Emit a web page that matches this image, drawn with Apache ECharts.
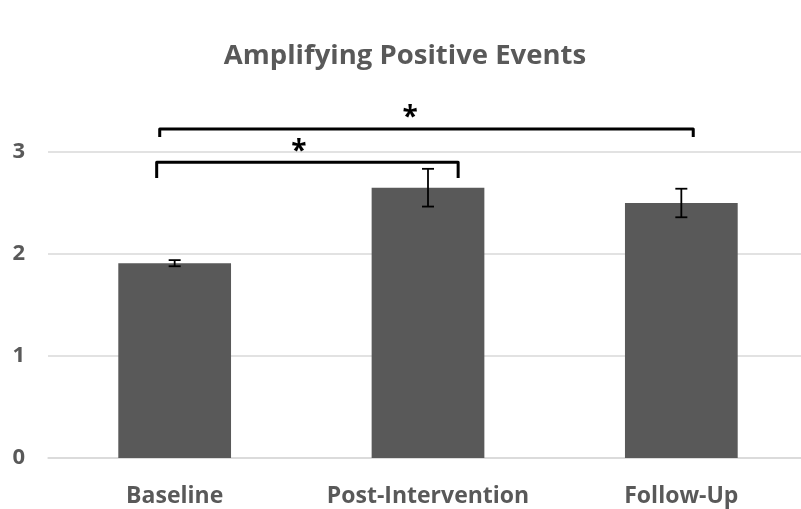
<!DOCTYPE html>
<html><head><meta charset="utf-8">
<script src="https://cdn.jsdelivr.net/npm/echarts@6/dist/echarts.min.js"></script>
<style>html,body{margin:0;padding:0;background:#fff;overflow:hidden}#c{width:810px;height:509px}</style>
</head><body><div id="c"></div>
<script>
const categories = ['Baseline', 'Post-Intervention', 'Follow-Up'];
const means = [1.91, 2.65, 2.50];
const errors = [0.03, 0.185, 0.14];
const yTicks = [0, 1, 2, 3];
const sigPairs = [[0, 1], [0, 2]];
const sigLabels = ['*', '*'];

// layout of the significance brackets (offsets in category-band units, levels in y units)
const bracketLayout = [
  { dx0: -0.071, dx1: 0.119, level: 2.90, endLevel: 2.745, starDx: 0.49, starLevel: 3.0 },
  { dx0: -0.059, dx1: 0.047, level: 3.225, endLevel: 3.147, starDx: 0.929, starLevel: 3.335 }
];

const FONT = 'Open Sans';
const chart = echarts.init(document.getElementById('c'), null, { renderer: 'canvas' });

const errData = means.map((m, i) => [i, m - errors[i], m + errors[i]]);
const brData = sigPairs.map((p, i) => [p[0], p[1], i]);

chart.setOption({
  animation: false,
  title: {
    text: 'Amplifying Positive Events',
    left: 'center', top: 37,
    textStyle: { fontFamily: FONT, fontWeight: 'bold', fontSize: 27.5, color: '#595959' }
  },
  grid: { left: 48, top: 152, right: 2, bottom: 51, containLabel: false },
  xAxis: {
    type: 'category', data: categories,
    axisLine: { lineStyle: { color: '#d9d9d9', width: 1.5 } },
    axisTick: { show: false },
    axisLabel: { interval: 0, fontFamily: FONT, fontWeight: 'bold', fontSize: 23, color: '#595959', margin: 27 }
  },
  yAxis: {
    type: 'value', min: yTicks[0], max: yTicks[yTicks.length - 1], interval: 1,
    axisLine: { show: false }, axisTick: { show: false },
    splitLine: { lineStyle: { color: '#d9d9d9', width: 1.5 } },
    axisLabel: { fontFamily: FONT, fontWeight: 'bold', fontSize: 22, color: '#595959', margin: 23 }
  },
  series: [
    {
      type: 'bar', data: means, barWidth: '44.5%',
      itemStyle: { color: '#595959' }
    },
    {
      type: 'custom', data: errData, z: 5,
      renderItem: function (params, api) {
        const x = api.value(0);
        const lo = api.coord([x, api.value(1)]);
        const hi = api.coord([x, api.value(2)]);
        const cw = 6;
        const st = { stroke: '#000', lineWidth: 1.8 };
        return { type: 'group', children: [
          { type: 'line', shape: { x1: lo[0], y1: lo[1], x2: hi[0], y2: hi[1] }, style: st },
          { type: 'line', shape: { x1: lo[0] - cw, y1: lo[1], x2: lo[0] + cw, y2: lo[1] }, style: st },
          { type: 'line', shape: { x1: hi[0] - cw, y1: hi[1], x2: hi[0] + cw, y2: hi[1] }, style: st }
        ]};
      }
    },
    {
      type: 'custom', data: brData, z: 6, clip: false,
      renderItem: function (params, api) {
        const a = api.value(0), b = api.value(1), k = api.value(2);
        const L = bracketLayout[k];
        const band = api.size([1, 0])[0];
        const pa = api.coord([a, L.level]);
        const pb = api.coord([b, L.level]);
        const pe = api.coord([a, L.endLevel]);
        const ps = api.coord([a, L.starLevel]);
        const x0 = pa[0] + L.dx0 * band, x1 = pb[0] + L.dx1 * band;
        return { type: 'group', children: [
          { type: 'polyline', shape: { points: [[x0, pe[1]], [x0, pa[1]], [x1, pa[1]], [x1, pe[1]]] },
            style: { stroke: '#000', lineWidth: 3, fill: null, lineJoin: 'round' } },
          { type: 'text', style: { text: sigLabels[k], x: pa[0] + L.starDx * band, y: ps[1],
              align: 'center', verticalAlign: 'middle', fill: '#000',
              font: 'bold 28px "' + FONT + '"' } }
        ]};
      }
    }
  ]
});
</script></body></html>
